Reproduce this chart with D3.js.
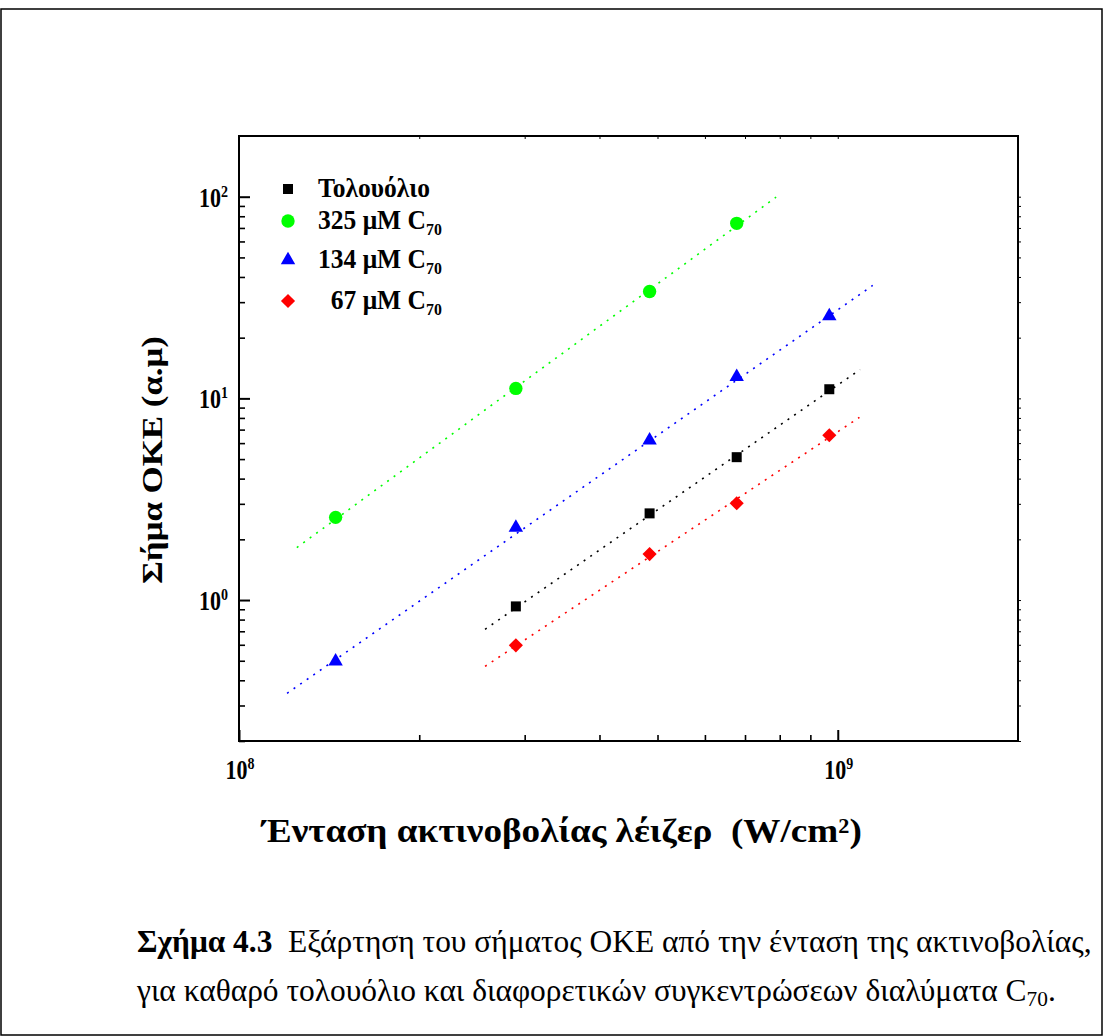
<!DOCTYPE html>
<html><head><meta charset="utf-8">
<script src="https://cdn.jsdelivr.net/npm/d3@7"></script>
<style>
body{margin:0;background:#fff}
svg text{font-family:"Liberation Serif","Times New Roman",serif;white-space:pre}
</style>
</head><body>
<svg id="chart" width="1104" height="1036"></svg>
<script>
// ---------- data ----------
const intensity = [1.45e8, 2.9e8, 4.85e8, 6.78e8, 9.68e8];
const tolueneSignal = [null, 0.93, 2.69, 5.11, 11.1];
const c325Signal   = [2.57, 11.2, 33.9, 73.8, null];
const c134Signal   = [0.497, 2.29, 6.19, 12.8, 25.6];
const c67Signal    = [null, 0.596, 1.69, 3.02, 6.56];
const seriesLabels = ["Τολουόλιο", "325 μM C", "134 μM C", "  67 μM C"];
const seriesSubs   = ["", "70", "70", "70"];
// dotted fit lines (end points)
const fitIntensity = [[2.576e8, 1.09e9], [1.249e8, 7.89e8], [1.203e8, 1.144e9], [2.576e8, 1.087e9]];
const fitSignal    = [[0.716, 13.9], [1.82, 99.5], [0.3446, 36.3], [0.469, 8.05]];
const xMajorTicks = [1e8, 1e9];
const xMajorExp   = ["8", "9"];
const xMinorTicks = [2e8, 3e8, 4e8, 5e8, 6e8, 7e8, 8e8, 9e8];
const yMajorTicks = [1, 10, 100];
const yMajorExp   = ["0", "1", "2"];
const yMinorTicks = [0.2,0.3,0.4,0.5,0.6,0.7,0.8,0.9, 2,3,4,5,6,7,8,9, 20,30,40,50,60,70,80,90];
const xTitle = "Ένταση ακτινοβολίας λέιζερ  (W/cm";
const yTitle = "Σήμα OKE (α.μ)";
const captionBold = "Σχήμα 4.3";
const captionLine1 = "  Εξάρτηση του σήματος ΟΚΕ από την ένταση της ακτινοβολίας,";
const captionLine2 = "για καθαρό τολουόλιο και διαφορετικών συγκεντρώσεων διαλύματα C";

// ---------- layout ----------
const P = {l: 239, r: 1018, t: 136, b: 741};
const colors = ["#000000", "#00ff00", "#0000ff", "#ff0000"];
const symbols = [d3.symbolSquare, d3.symbolCircle, d3.symbolTriangle, d3.symbolSquare];
const symSizes = [100, 140, 90, 100];
const symRot = [0, 0, 0, 45];
const series = [tolueneSignal, c325Signal, c134Signal, c67Signal];

const svg = d3.select("#chart");
svg.append("rect").attr("x", 1).attr("y", 9).attr("width", 1101).attr("height", 1026)
  .attr("fill", "none").attr("stroke", "#000").attr("stroke-width", 1.5);

const x = d3.scaleLog().domain([1e8, 2e9]).range([P.l, P.r]);
const y = d3.scaleLog().domain([0.2, 200]).range([P.b, P.t]);

function styleAxis(g, w) {
  g.select(".domain").remove();
  g.selectAll(".tick line").attr("stroke", "#000").attr("stroke-width", w);
}
svg.append("g").attr("transform", `translate(${P.l},0)`)
  .call(d3.axisLeft(y).tickValues(yMajorTicks).tickSize(-11).tickFormat(""))
  .call(g => styleAxis(g, 2));
svg.append("g").attr("transform", `translate(${P.l},0)`)
  .call(d3.axisLeft(y).tickValues(yMinorTicks).tickSize(-6).tickFormat(""))
  .call(g => styleAxis(g, 1.6));
svg.append("g").attr("transform", `translate(0,${P.b})`)
  .call(d3.axisBottom(x).tickValues(xMajorTicks).tickSize(-11).tickFormat(""))
  .call(g => styleAxis(g, 2));
svg.append("g").attr("transform", `translate(0,${P.b})`)
  .call(d3.axisBottom(x).tickValues(xMinorTicks).tickSize(-6).tickFormat(""))
  .call(g => styleAxis(g, 1.6));
svg.append("g").attr("transform", `translate(0,${P.t})`)
  .call(d3.axisTop(x).tickValues(xMajorTicks.concat(xMinorTicks)).tickSize(-3).tickFormat(""))
  .call(g => styleAxis(g, 1));
svg.append("g").attr("transform", `translate(${P.r},0)`)
  .call(d3.axisRight(y).tickValues(yMajorTicks.concat(yMinorTicks)).tickSize(3).tickFormat(""))
  .call(g => styleAxis(g, 1));
svg.append("rect").attr("x", P.l).attr("y", P.t).attr("width", P.r - P.l).attr("height", P.b - P.t)
  .attr("fill", "none").attr("stroke", "#000").attr("stroke-width", 2);

function stext(x0, y0, size, weight, anchor, s) {
  return svg.append("text").attr("transform", `translate(${x0},${y0}) scale(1,${s})`)
    .attr("font-size", size).attr("font-weight", weight || "bold").attr("text-anchor", anchor || "start");
}
function widthOf(t) { return t.node().getComputedTextLength(); }

// tick labels
yMajorTicks.forEach((v, i) => {
  const t = stext(228, y(v) + 10, 22, "bold", "end", 1.2);
  t.append("tspan").text("10");
  t.append("tspan").attr("dy", -8.5).attr("font-size", 14).text(yMajorExp[i]);
});
xMajorTicks.forEach((v, i) => {
  const t = stext(x(v) + 1, 779, 22, "bold", "middle", 1.2);
  t.append("tspan").text("10");
  t.append("tspan").attr("dy", -8.5).attr("font-size", 14).text(xMajorExp[i]);
});

// fit lines
const line = d3.line().x(d => x(d[0])).y(d => y(d[1]));
fitIntensity.forEach((fx, i) => {
  svg.append("path").datum([[fx[0], fitSignal[i][0]], [fx[1], fitSignal[i][1]]])
    .attr("d", line).attr("fill", "none").attr("stroke", colors[i])
    .attr("stroke-width", 1.6).attr("stroke-dasharray", "2,6");
});

// markers
series.forEach((vals, i) => {
  const pts = intensity.map((xv, j) => [xv, vals[j]]).filter(d => d[1] != null);
  svg.append("g").selectAll("path").data(pts).join("path")
    .attr("d", d3.symbol().type(symbols[i]).size(symSizes[i]))
    .attr("transform", d => `translate(${x(d[0])},${y(d[1])}) rotate(${symRot[i]})`)
    .attr("fill", colors[i]);
});

// legend
const legY = [189, 221, 260, 301];
// measure legend font so that the first label is ~112px wide
const probe = svg.append("text").attr("font-size", 24).attr("font-weight", "bold").text(seriesLabels[0]);
const legFs = 24 * 112 / widthOf(probe);
probe.remove();
const legS = 17.5 / (0.662 * legFs);
seriesLabels.forEach((lab, i) => {
  svg.append("path").attr("d", d3.symbol().type(symbols[i]).size(symSizes[i]))
    .attr("transform", `translate(288,${legY[i]}) rotate(${symRot[i]})`).attr("fill", colors[i]);
  const t = stext(318, legY[i] + 8, legFs, "bold", "start", legS);
  t.append("tspan").text(lab);
  if (seriesSubs[i]) t.append("tspan").attr("dy", 6).attr("font-size", legFs * 0.62).text(seriesSubs[i]);
});

// axis titles
const xt = stext(262, 842, 30, "bold", "start", 1);
xt.append("tspan").text(xTitle);
xt.append("tspan").attr("dy", "-0.42em").attr("font-size", "0.6em").text("2");
xt.append("tspan").attr("dy", "0.25em").text(")");
const xFs = 30 * 600 / widthOf(xt);
xt.attr("font-size", xFs);
const xS = 23 / (0.662 * xFs);
xt.attr("transform", `translate(262,842) scale(1,${xS})`);

const yt = svg.append("text").attr("font-size", 30).attr("font-weight", "bold")
  .attr("text-anchor", "middle").text(yTitle);
const yS = 248 / widthOf(yt);
yt.attr("transform", `translate(162,460) scale(1,${yS}) rotate(-90)`);

// caption
const c1 = svg.append("text").attr("font-size", 26).attr("font-weight", "normal");
c1.append("tspan").attr("font-weight", "bold").text(captionBold);
c1.append("tspan").text(captionLine1);
const cFs = 26 * 955 / widthOf(c1);
c1.attr("font-size", cFs);
const cS = 21 / (0.662 * cFs);
c1.attr("transform", `translate(137,952) scale(1,${cS})`);
const c2 = stext(137, 1001, cFs, "normal", "start", cS);
c2.append("tspan").text(captionLine2);
c2.append("tspan").attr("dy", 5).attr("font-size", "0.68em").text("70");
c2.append("tspan").attr("dy", -5).text(".");
</script>
</body></html>
